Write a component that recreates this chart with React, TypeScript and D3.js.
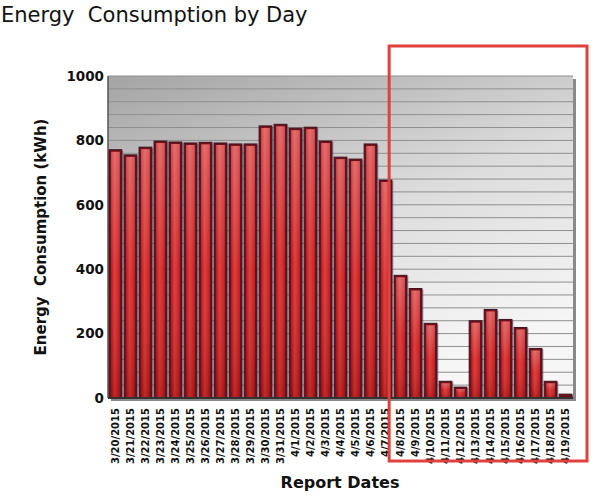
import * as d3 from 'd3';
import React from 'react';

const dates = [
  '3/20/2015', '3/21/2015', '3/22/2015', '3/23/2015', '3/24/2015', '3/25/2015',
  '3/26/2015', '3/27/2015', '3/28/2015', '3/29/2015', '3/30/2015', '3/31/2015',
  '4/1/2015', '4/2/2015', '4/3/2015', '4/4/2015', '4/5/2015', '4/6/2015',
  '4/7/2015', '4/8/2015', '4/9/2015', '4/10/2015', '4/11/2015', '4/12/2015',
  '4/13/2015', '4/14/2015', '4/15/2015', '4/16/2015', '4/17/2015', '4/18/2015',
  '4/19/2015',
];
const kwh = [
  771, 755, 779, 798, 795, 792, 794, 792, 789, 789, 845, 850,
  838, 841, 798, 748, 742, 789, 677, 381, 340, 232, 52, 34,
  240, 275, 244, 219, 154, 52, 12,
];
const yTicks = [0, 200, 400, 600, 800, 1000];
const gridStep = 40;
const highlightFrom = '4/8/2015';

const W = 601;
const H = 500;
const left = 108;
const right = 573;
const top = 76;
const bottom = 398;
const font = 'DejaVu Sans, Verdana, sans-serif';

const App = () => {
  const x = d3.scaleBand<string>().domain(dates).range([left, right]).paddingInner(0.15).paddingOuter(0.07);
  const y = d3.scaleLinear().domain([0, 1000]).range([bottom, top]);
  const grid = d3.range(0, 1000 + 1, gridStep);
  const bw = x.bandwidth();
  const boxLeft = (x(highlightFrom) as number) - 5;

  return (
    <svg width={W} height={H} style={{ position: 'absolute', left: 0, top: 0 }}>
      <defs>
        <linearGradient id='plotBg' x1='0' y1='0' x2='0.5' y2='1'>
          <stop offset='0' stopColor='#a4a4a4' />
          <stop offset='0.55' stopColor='#dcdcdc' />
          <stop offset='1' stopColor='#f6f6f6' />
        </linearGradient>
        <linearGradient id='barH' x1='0' y1='0' x2='1' y2='0'>
          <stop offset='0' stopColor='#b40f12' />
          <stop offset='0.42' stopColor='#de3434' />
          <stop offset='1' stopColor='#c11414' />
        </linearGradient>
        <linearGradient id='barV' x1='0' y1='0' x2='0' y2='1'>
          <stop offset='0' stopColor='#ffffff' stopOpacity='0.28' />
          <stop offset='0.5' stopColor='#ffffff' stopOpacity='0.05' />
          <stop offset='1' stopColor='#000000' stopOpacity='0.15' />
        </linearGradient>
      </defs>
      <rect width={W} height={H} fill='#ffffff' />

      <text x={1} y={22} fontFamily={font} fontSize={21} fill='#111' style={{ whiteSpace: 'pre' }}>
        Energy  Consumption by Day
      </text>

      {/* plot panel with drop shadow */}
      <rect x={left + 3} y={top + 3} width={right - left} height={bottom - top} fill='#8a8a8a' />
      <rect x={left} y={top} width={right - left} height={bottom - top} fill='url(#plotBg)' />
      {grid.map((g) => (
        <line key={g} x1={left} x2={right} y1={y(g)} y2={y(g)} stroke='#8f8f8f' strokeWidth={1} />
      ))}
      <line x1={left} x2={left} y1={top} y2={bottom} stroke='#555' strokeWidth={1.5} />

      {dates.map((d, i) => {
        const bx = x(d) as number;
        const by = y(kwh[i]);
        const bh = bottom - by;
        return (
          <g key={d}>
            <rect x={bx + 1.5} y={by + 1} width={bw} height={bh} fill='#5c5c80' opacity={0.55} />
            <rect x={bx} y={by} width={bw} height={bh} fill='#6e1018' stroke='#42121f' strokeWidth={1} />
            {bh > 5 && (
              <>
                <rect x={bx + 2} y={by + 2} width={bw - 4} height={bh - 3} fill='url(#barH)' />
                <rect x={bx + 2} y={by + 2} width={bw - 4} height={bh - 3} fill='url(#barV)' />
              </>
            )}
          </g>
        );
      })}
      <line x1={left} x2={right} y1={bottom} y2={bottom} stroke='#333' strokeWidth={2} />

      {yTicks.map((t) => (
        <text key={t} x={104} y={y(t)} dy='0.35em' textAnchor='end' fontFamily={font} fontWeight='bold' fontSize={13.5} fill='#111'>
          {t}
        </text>
      ))}

      {dates.map((d) => (
        <text
          key={d}
          transform={`translate(${(x(d) as number) + bw / 2},408) rotate(-90)`}
          textAnchor='end'
          dy='0.35em'
          fontFamily={font}
          fontWeight='bold'
          fontSize={10}
          fill='#111'
        >
          {d}
        </text>
      ))}

      <text
        transform={`translate(46,${(top + bottom) / 2}) rotate(-90)`}
        textAnchor='middle'
        fontFamily={font}
        fontWeight='bold'
        fontSize={15}
        fill='#111'
        style={{ whiteSpace: 'pre' }}
      >
        Energy  Consumption (kWh)
      </text>
      <text x={340} y={488} textAnchor='middle' fontFamily={font} fontWeight='bold' fontSize={16} fill='#111'>
        Report Dates
      </text>

      <rect x={boxLeft} y={46} width={587 - boxLeft} height={415} fill='none' stroke='#e0413c' strokeWidth={3} />
    </svg>
  );
};

export default App;
